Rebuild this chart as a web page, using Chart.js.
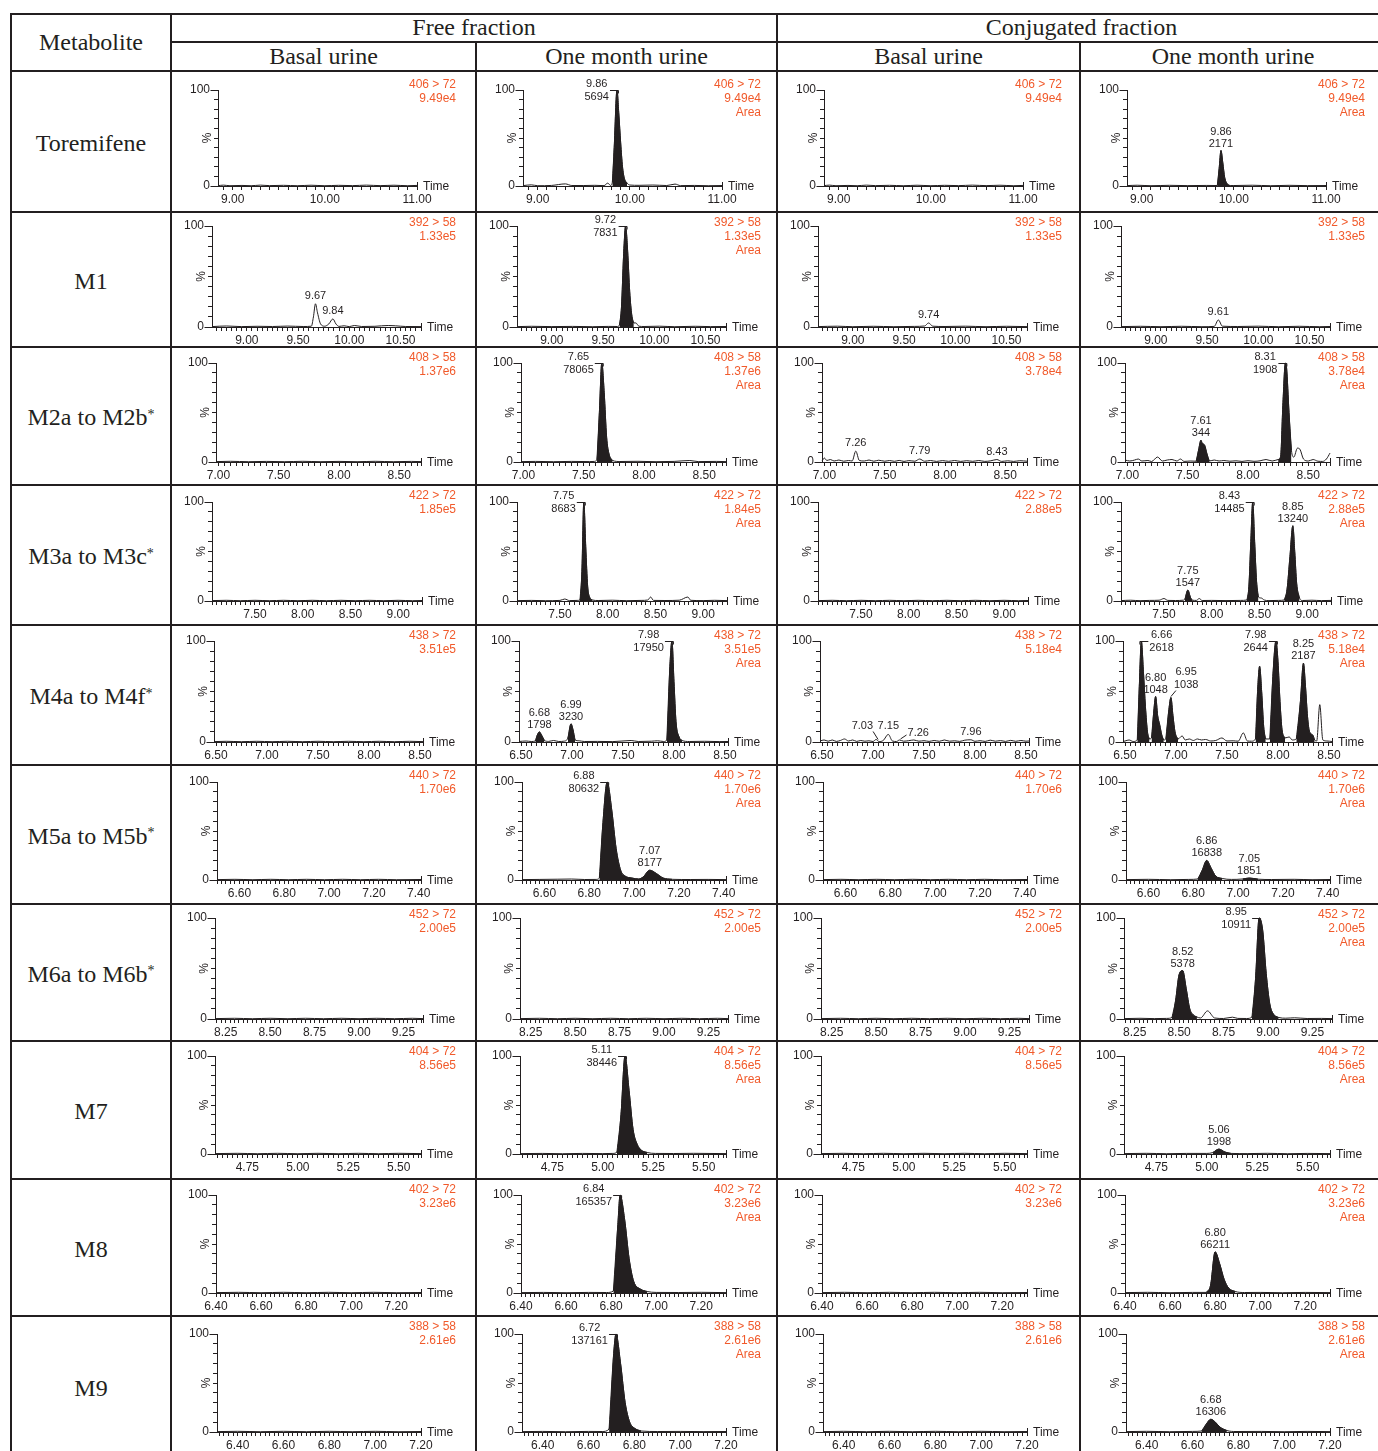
<!DOCTYPE html>
<html>
<head>
<meta charset="utf-8">
<script src="https://cdn.jsdelivr.net/npm/chart.js@4.4.1/dist/chart.umd.min.js"></script>
<style>
body { margin: 0; background: #fff; }
#page { position: relative; width: 1378px; height: 1451px; overflow: hidden; background: #fff;
  font-family: "Liberation Serif", "Times New Roman", serif; color: #231f20; }
.ln { position: absolute; background: #231f20; z-index: 3; }
.box { position: absolute; display: flex; align-items: center; justify-content: center;
  font-size: 24px; white-space: nowrap; z-index: 2; }
.name { padding-top: 3px; box-sizing: border-box; }
.box sup { font-size: 14px; position: relative; top: -3px; }
.chan { position: absolute; text-align: right; font-family: "Liberation Sans", Arial, sans-serif;
  font-size: 12px; line-height: 14px; color: #f15a2b; z-index: 2; white-space: nowrap; }
canvas { position: absolute; }
</style>
</head>
<body>
<div id="page"></div>
<script>
const metabolites = ['Toremifene', 'M1', 'M2a to M2b*', 'M3a to M3c*', 'M4a to M4f*',
  'M5a to M5b*', 'M6a to M6b*', 'M7', 'M8', 'M9'];
const fractions = ['Free fraction', 'Conjugated fraction'];
const samples = ['Basal urine', 'One month urine'];
const transitions = ['406 > 72', '392 > 58', '408 > 58', '422 > 72', '438 > 72',
  '440 > 72', '452 > 72', '404 > 72', '402 > 72', '388 > 58'];
const intensities = [
  ['9.49e4', '9.49e4', '9.49e4', '9.49e4'],
  ['1.33e5', '1.33e5', '1.33e5', '1.33e5'],
  ['1.37e6', '1.37e6', '3.78e4', '3.78e4'],
  ['1.85e5', '1.84e5', '2.88e5', '2.88e5'],
  ['3.51e5', '3.51e5', '5.18e4', '5.18e4'],
  ['1.70e6', '1.70e6', '1.70e6', '1.70e6'],
  ['2.00e5', '2.00e5', '2.00e5', '2.00e5'],
  ['8.56e5', '8.56e5', '8.56e5', '8.56e5'],
  ['3.23e6', '3.23e6', '3.23e6', '3.23e6'],
  ['2.61e6', '2.61e6', '2.61e6', '2.61e6']
];

// chromatogram traces: [time, % of channel max]
const torBase = [[8.84,0.4],[8.9,0.9],[8.97,0.3],[9.1,0.6],[9.2,0.3],[9.3,0.9],[9.4,0.4],[9.55,0.7],[9.7,0.3],[9.85,0.8],[10.0,0.3],[10.15,0.7],[10.3,0.4],[10.45,0.9],[10.6,0.4],[10.75,0.8],[10.9,0.3],[11.0,0.6]];
const torFreeOne = [[8.84,0.4],[8.93,1.2],[9.0,0.3],[9.15,0.6],[9.3,2.2],[9.37,0.5],[9.5,0.5],[9.62,0.7],[9.72,0.4],[9.76,3],[9.79,0.6],[9.81,4],[9.83,40],[9.86,100],[9.88,75],[9.9,45],[9.92,20],[9.94,8],[9.97,3],[10.0,1],[10.1,0.7],[10.25,1],[10.4,0.5],[10.49,2],[10.55,0.4],[10.7,0.6],[10.85,0.3],[11.0,0.5]];
const torFreeOneFills = [[9.8, 9.98]];
const torFreeOneLabels = [[9.86, 100, '5694']];
const torConjOne = [[8.84,0.4],[8.95,0.8],[9.1,0.3],[9.3,0.7],[9.5,0.4],[9.7,0.6],[9.82,0.5],[9.84,18],[9.86,37],[9.88,24],[9.9,9],[9.93,2],[9.96,0.5],[10.0,0.5],[10.2,0.8],[10.4,0.3],[10.6,0.7],[10.8,0.4],[11.0,0.5]];
const torConjOneFills = [[9.82, 9.96]];
const torConjOneLabels = [[9.86, 37, '2171']];

const m1FreeBasal = [[8.66,0.4],[8.8,1],[8.95,0.4],[9.1,0.7],[9.25,0.5],[9.4,0.9],[9.55,0.5],[9.63,0.8],[9.65,10],[9.67,23],[9.69,14],[9.72,3],[9.76,0.8],[9.8,3],[9.84,8],[9.87,3],[9.9,0.6],[9.95,1.2],[10.0,0.4],[10.05,1.5],[10.12,0.5],[10.25,0.7],[10.38,1.5],[10.45,1.2],[10.55,0.5],[10.7,0.4]];
const m1FreeBasalLabels = [[9.67, 23, ''], [9.84, 8, '']];
const m1FreeOne = [[8.66,0.4],[8.8,0.7],[9.0,0.4],[9.2,0.6],[9.4,0.3],[9.55,0.6],[9.64,0.5],[9.66,2],[9.68,20],[9.7,70],[9.72,100],[9.74,75],[9.76,35],[9.78,12],[9.8,4],[9.82,4],[9.85,0.8],[9.9,0.5],[10.05,0.8],[10.2,0.3],[10.4,0.7],[10.55,0.4],[10.7,0.5]];
const m1FreeOneFills = [[9.66, 9.81]];
const m1FreeOneLabels = [[9.72, 100, '7831']];
const m1ConjBasal = [[8.66,0.4],[8.85,0.8],[9.0,0.3],[9.2,0.7],[9.4,0.3],[9.6,0.6],[9.7,1],[9.74,4],[9.78,0.8],[9.9,0.5],[10.1,0.8],[10.3,0.3],[10.5,0.7],[10.7,0.4]];
const m1ConjBasalLabels = [[9.74, 4, '']];
const m1ConjOne = [[8.66,0.4],[8.85,0.7],[9.05,0.3],[9.25,0.7],[9.45,0.3],[9.57,0.6],[9.61,7],[9.65,0.8],[9.8,0.5],[10.0,0.8],[10.2,0.3],[10.4,0.7],[10.6,0.3],[10.7,0.5]];
const m1ConjOneLabels = [[9.61, 7, '']];

const m2Base = [[6.98,0.4],[7.1,0.7],[7.25,0.3],[7.4,0.6],[7.55,0.3],[7.7,0.7],[7.85,0.3],[8.0,0.6],[8.15,0.3],[8.3,0.7],[8.45,0.3],[8.6,0.6],[8.68,0.4]];
const m2FreeOne = [[6.98,0.4],[7.1,0.6],[7.25,0.3],[7.4,0.6],[7.55,0.4],[7.59,0.6],[7.61,3],[7.63,50],[7.65,100],[7.67,70],[7.69,25],[7.71,8],[7.74,1.5],[7.8,0.5],[7.95,0.7],[8.1,0.3],[8.25,0.6],[8.38,1.5],[8.45,0.4],[8.6,0.6],[8.68,0.4]];
const m2FreeOneFills = [[7.6, 7.74]];
const m2FreeOneLabels = [[7.65, 100, '78065']];
const m2ConjBasal = [[6.98,1],[7.0,4],[7.02,1.5],[7.05,2.5],[7.08,1],[7.12,2],[7.16,0.8],[7.2,1.5],[7.23,1],[7.26,11],[7.29,1.5],[7.33,1],[7.37,2],[7.41,0.8],[7.45,1.8],[7.5,0.8],[7.54,1.5],[7.58,0.7],[7.62,1.6],[7.66,0.6],[7.7,1.4],[7.75,0.8],[7.79,3],[7.83,0.8],[7.88,1.5],[7.93,0.6],[7.98,1.4],[8.03,0.7],[8.08,1.5],[8.13,0.6],[8.18,1.3],[8.23,0.7],[8.28,1.5],[8.33,0.6],[8.38,1.2],[8.43,2.5],[8.47,0.6],[8.52,1.2],[8.57,0.6],[8.62,1.3],[8.68,0.8]];
const m2ConjBasalLabels = [[7.26, 11, ''], [7.79, 3, ''], [8.43, 2.5, '']];
const m2ConjOne = [[6.98,2],[7.02,1],[7.06,2],[7.09,3],[7.12,1],[7.17,1.5],[7.2,0.5],[7.25,5],[7.29,1],[7.33,2],[7.37,2.5],[7.41,1],[7.44,3],[7.47,0.6],[7.52,1],[7.57,0.8],[7.59,12],[7.61,22],[7.62,19],[7.64,17],[7.66,8],[7.68,1],[7.72,2],[7.76,1],[7.8,1.5],[7.85,0.8],[7.9,1.2],[7.95,0.6],[8.0,1.3],[8.05,0.7],[8.1,1.2],[8.15,2.5],[8.2,1],[8.25,2.5],[8.27,5],[8.29,60],[8.31,100],[8.32,95],[8.34,50],[8.36,12],[8.38,5],[8.41,14],[8.43,13],[8.46,3],[8.5,1],[8.54,2.5],[8.58,0.8],[8.62,0.6],[8.65,3],[8.68,9]];
const m2ConjOneFills = [[7.57, 7.68], [8.25, 8.37]];
const m2ConjOneLabels = [[7.61, 22, '344'], [8.31, 100, '1908']];

const m3Base = [[7.05,0.4],[7.2,0.7],[7.35,0.3],[7.5,0.7],[7.65,0.3],[7.8,0.7],[7.95,0.3],[8.1,0.7],[8.25,0.3],[8.4,0.7],[8.55,0.3],[8.7,0.7],[8.85,0.3],[9.0,0.7],[9.15,0.3],[9.25,0.5]];
const m3FreeOne = [[7.05,0.4],[7.2,0.6],[7.35,0.3],[7.5,0.6],[7.55,2],[7.6,0.4],[7.68,0.6],[7.71,1],[7.73,30],[7.75,100],[7.77,55],[7.79,15],[7.81,4],[7.84,1],[7.9,0.5],[8.05,0.8],[8.2,0.3],[8.35,0.6],[8.42,1],[8.45,4],[8.48,0.6],[8.6,0.5],[8.75,0.8],[8.84,4],[8.87,0.7],[9.0,0.4],[9.12,0.7],[9.25,0.4]];
const m3FreeOneFills = [[7.71, 7.84]];
const m3FreeOneLabels = [[7.75, 100, '8683']];
const m3ConjOne = [[7.05,0.4],[7.15,0.8],[7.25,0.3],[7.35,0.6],[7.45,0.8],[7.5,2.5],[7.54,0.6],[7.62,0.5],[7.7,0.8],[7.72,2],[7.75,11],[7.78,3],[7.8,0.8],[7.84,0.6],[7.87,2.5],[7.9,0.5],[8.0,0.6],[8.15,0.4],[8.3,0.6],[8.37,1],[8.39,15],[8.41,60],[8.43,100],[8.45,60],[8.47,20],[8.49,4],[8.52,3],[8.55,1],[8.6,0.4],[8.7,0.6],[8.76,1],[8.79,12],[8.82,45],[8.85,76],[8.87,50],[8.89,18],[8.92,3],[8.95,0.5],[9.05,0.8],[9.15,0.4],[9.25,0.6]];
const m3ConjOneFills = [[7.71, 7.8], [8.37, 8.5], [8.76, 8.93]];
const m3ConjOneLabels = [[7.75, 11, '1547'], [8.43, 100, '14485'], [8.85, 76, '13240']];

const m4Base = [[6.48,0.4],[6.6,0.7],[6.75,0.3],[6.9,0.7],[7.05,0.3],[7.2,0.7],[7.35,0.3],[7.5,0.7],[7.65,0.3],[7.8,0.7],[7.95,0.3],[8.1,0.7],[8.25,0.3],[8.4,0.7],[8.53,0.4]];
const m4FreeOne = [[6.48,0.5],[6.55,1],[6.6,0.5],[6.64,1],[6.66,7],[6.68,10],[6.7,7],[6.73,1.5],[6.77,0.6],[6.82,1.5],[6.87,0.5],[6.92,0.8],[6.96,4],[6.99,18],[7.01,12],[7.03,2],[7.07,1.2],[7.12,0.5],[7.25,0.6],[7.4,0.4],[7.58,1.5],[7.65,0.5],[7.78,0.8],[7.84,1.2],[7.9,0.5],[7.93,2],[7.96,75],[7.98,100],[8.0,60],[8.02,20],[8.05,5],[8.08,1.5],[8.15,0.5],[8.3,0.7],[8.45,0.4],[8.53,0.5]];
const m4FreeOneFills = [[6.64, 6.73], [6.95, 7.04], [7.93, 8.08]];
const m4FreeOneLabels = [[6.68, 10, '1798'], [6.99, 18, '3230'], [7.98, 100, '17950']];
const m4ConjBasal = [[6.48,1],[6.52,2],[6.56,0.8],[6.6,2],[6.64,0.6],[6.68,1.5],[6.72,3],[6.76,1],[6.8,2],[6.84,0.6],[6.88,1.5],[6.92,0.8],[6.96,1.2],[7.0,0.5],[7.03,2.5],[7.06,0.4],[7.1,1.5],[7.15,7.5],[7.19,1],[7.23,0.5],[7.26,2],[7.3,0.8],[7.35,1.3],[7.4,2],[7.45,0.8],[7.5,1.3],[7.55,0.6],[7.6,1.5],[7.65,0.7],[7.7,2],[7.75,0.8],[7.8,1.2],[7.85,0.6],[7.9,1.8],[7.96,2.2],[8.0,0.7],[8.05,1.3],[8.1,0.6],[8.15,1.8],[8.2,0.8],[8.25,1.4],[8.3,0.6],[8.35,1.6],[8.4,0.7],[8.45,1.5],[8.5,0.8],[8.53,1]];
const m4ConjBasalLabels = [[7.03, 2.5, ''], [7.15, 7.5, ''], [7.26, 2, ''], [7.96, 2.2, '']];
const m4ConjOne = [[6.48,0.5],[6.5,1],[6.54,2],[6.58,0.5],[6.62,2],[6.64,55],[6.66,100],[6.68,70],[6.7,35],[6.72,10],[6.74,3],[6.76,4],[6.78,28],[6.8,45],[6.82,26],[6.84,17],[6.86,7],[6.88,2],[6.9,3],[6.93,32],[6.95,44],[6.97,26],[6.99,10],[7.02,3],[7.06,6],[7.09,2],[7.13,3],[7.17,1.5],[7.21,3],[7.25,2],[7.29,2.5],[7.34,1],[7.39,1.5],[7.45,4],[7.5,1],[7.56,1.2],[7.61,0.8],[7.66,9],[7.7,1],[7.74,0.8],[7.78,3],[7.8,50],[7.82,75],[7.84,50],[7.86,15],[7.88,3],[7.92,3],[7.95,65],[7.98,100],[8.0,80],[8.02,40],[8.04,12],[8.07,4],[8.11,5],[8.14,2],[8.18,3],[8.22,40],[8.25,78],[8.27,55],[8.29,25],[8.31,10],[8.34,7],[8.36,2],[8.38,1],[8.41,37],[8.44,2],[8.48,1],[8.53,0.5]];
const m4ConjOneFills = [[6.62, 6.74], [6.76, 6.89], [6.9, 7.02], [7.78, 7.89], [7.92, 8.07], [8.18, 8.36]];
const m4ConjOneLabels = [[6.66, 100, '2618'], [6.8, 45, '1048'], [6.95, 44, '1038'], [7.98, 100, '2644'], [8.25, 78, '2187']];

const m5Base = [[6.5,0.4],[6.58,0.7],[6.66,0.3],[6.74,0.7],[6.82,0.3],[6.9,0.7],[6.98,0.3],[7.06,0.7],[7.14,0.3],[7.22,0.7],[7.3,0.3],[7.41,0.5]];
const m5FreeOne = [[6.5,0.4],[6.58,0.6],[6.66,0.8],[6.72,1],[6.78,0.5],[6.83,0.6],[6.845,2],[6.86,55],[6.88,100],[6.9,72],[6.92,32],[6.94,10],[6.96,4],[6.99,2],[7.02,1],[7.04,3],[7.07,10],[7.1,6.5],[7.13,2],[7.17,0.7],[7.25,0.5],[7.33,0.6],[7.41,0.4]];
const m5FreeOneFills = [[6.84, 7.17]];
const m5FreeOneLabels = [[6.88, 100, '80632'], [7.07, 10, '8177']];
const m5ConjOne = [[6.5,0.4],[6.6,0.7],[6.7,0.3],[6.78,0.6],[6.82,1],[6.84,10],[6.86,20],[6.88,12],[6.9,4],[6.93,1.5],[6.97,0.6],[7.02,1],[7.05,2],[7.09,0.8],[7.15,0.5],[7.25,0.7],[7.33,0.3],[7.41,0.5]];
const m5ConjOneFills = [[6.82, 6.95], [7.02, 7.09]];
const m5ConjOneLabels = [[6.86, 20, '16838'], [7.05, 2, '1851']];

const m6Base = [[8.19,0.4],[8.3,0.7],[8.4,0.3],[8.5,0.7],[8.6,0.3],[8.7,0.7],[8.8,0.3],[8.9,0.7],[9.0,0.3],[9.1,0.7],[9.2,0.3],[9.3,0.7],[9.36,0.4]];
const m6ConjOne = [[8.19,0.4],[8.28,0.7],[8.36,0.4],[8.43,0.6],[8.46,1.5],[8.48,18],[8.5,44],[8.52,48],[8.54,30],[8.56,10],[8.58,4],[8.6,2],[8.62,1],[8.66,8],[8.7,1],[8.75,0.5],[8.8,1.8],[8.83,0.6],[8.88,0.5],[8.91,2],[8.93,40],[8.95,100],[8.97,88],[8.99,45],[9.01,15],[9.03,5],[9.06,1.5],[9.1,0.8],[9.15,1.2],[9.22,0.5],[9.3,0.6],[9.36,0.4]];
const m6ConjOneFills = [[8.45, 8.61], [8.9, 9.08]];
const m6ConjOneLabels = [[8.52, 48, '5378'], [8.95, 100, '10911']];

const m7Base = [[4.59,0.4],[4.7,0.7],[4.8,0.3],[4.9,0.7],[5.0,0.3],[5.1,0.7],[5.2,0.3],[5.3,0.7],[5.4,0.3],[5.5,0.7],[5.61,0.4]];
const m7FreeOne = [[4.59,0.4],[4.7,0.6],[4.8,0.3],[4.9,0.6],[5.0,0.4],[5.05,0.6],[5.07,2],[5.09,40],[5.11,100],[5.13,65],[5.15,25],[5.17,10],[5.19,4],[5.22,1.5],[5.26,0.6],[5.35,0.5],[5.45,0.7],[5.61,0.4]];
const m7FreeOneFills = [[5.06, 5.23]];
const m7FreeOneLabels = [[5.11, 100, '38446']];
const m7ConjOne = [[4.59,0.4],[4.7,0.7],[4.8,0.3],[4.9,0.6],[5.0,0.6],[5.03,1.5],[5.06,5],[5.09,2],[5.12,0.6],[5.2,0.4],[5.3,0.7],[5.4,0.3],[5.5,0.6],[5.61,0.4]];
const m7ConjOneFills = [[5.02, 5.12]];
const m7ConjOneLabels = [[5.06, 5, '1998']];

const m8Base = [[6.4,0.4],[6.5,0.7],[6.6,0.3],[6.7,0.7],[6.8,0.3],[6.9,0.7],[7.0,0.3],[7.1,0.7],[7.2,0.3],[7.31,0.5]];
const m8FreeOne = [[6.4,0.4],[6.5,0.6],[6.6,0.3],[6.7,0.6],[6.78,0.5],[6.81,2],[6.83,70],[6.84,100],[6.86,75],[6.88,35],[6.9,12],[6.93,4],[6.96,1.5],[7.0,0.6],[7.1,0.5],[7.2,0.7],[7.31,0.4]];
const m8FreeOneFills = [[6.8, 6.97]];
const m8FreeOneLabels = [[6.84, 100, '165357']];
const m8ConjOne = [[6.4,0.4],[6.5,0.7],[6.6,0.3],[6.7,0.6],[6.76,0.6],[6.78,8],[6.8,42],[6.82,30],[6.84,14],[6.86,5],[6.89,1.5],[6.93,0.5],[7.0,0.6],[7.1,0.3],[7.2,0.6],[7.31,0.4]];
const m8ConjOneFills = [[6.76, 6.9]];
const m8ConjOneLabels = [[6.8, 42, '66211']];

const m9Base = [[6.31,0.4],[6.4,0.7],[6.5,0.3],[6.6,0.7],[6.7,0.3],[6.8,0.7],[6.9,0.3],[7.0,0.7],[7.1,0.3],[7.2,0.5]];
const m9FreeOne = [[6.31,0.4],[6.4,0.6],[6.5,0.3],[6.6,0.6],[6.66,0.5],[6.69,3],[6.71,80],[6.72,100],[6.74,70],[6.76,30],[6.78,10],[6.8,4],[6.83,1],[6.9,0.5],[7.0,0.6],[7.1,0.4],[7.2,0.5]];
const m9FreeOneFills = [[6.68, 6.83]];
const m9FreeOneLabels = [[6.72, 100, '137161']];
const m9ConjOne = [[6.31,0.4],[6.4,0.7],[6.5,0.3],[6.6,0.6],[6.64,1],[6.66,8],[6.68,13],[6.7,10],[6.72,5],[6.75,1.5],[6.79,0.5],[6.9,0.6],[7.0,0.3],[7.1,0.6],[7.2,0.4]];
const m9ConjOneFills = [[6.64, 6.78]];
const m9ConjOneLabels = [[6.68, 13, '16306']];

// which trace goes in which cell (row = metabolite, col = free basal, free 1 month, conj basal, conj 1 month)
const panels = [
  [{t: torBase}, {t: torFreeOne, f: torFreeOneFills, l: torFreeOneLabels}, {t: torBase}, {t: torConjOne, f: torConjOneFills, l: torConjOneLabels}],
  [{t: m1FreeBasal, l: m1FreeBasalLabels}, {t: m1FreeOne, f: m1FreeOneFills, l: m1FreeOneLabels}, {t: m1ConjBasal, l: m1ConjBasalLabels}, {t: m1ConjOne, l: m1ConjOneLabels}],
  [{t: m2Base}, {t: m2FreeOne, f: m2FreeOneFills, l: m2FreeOneLabels}, {t: m2ConjBasal, l: m2ConjBasalLabels}, {t: m2ConjOne, f: m2ConjOneFills, l: m2ConjOneLabels}],
  [{t: m3Base}, {t: m3FreeOne, f: m3FreeOneFills, l: m3FreeOneLabels}, {t: m3Base}, {t: m3ConjOne, f: m3ConjOneFills, l: m3ConjOneLabels}],
  [{t: m4Base}, {t: m4FreeOne, f: m4FreeOneFills, l: m4FreeOneLabels}, {t: m4ConjBasal, l: m4ConjBasalLabels}, {t: m4ConjOne, f: m4ConjOneFills, l: m4ConjOneLabels}],
  [{t: m5Base}, {t: m5FreeOne, f: m5FreeOneFills, l: m5FreeOneLabels}, {t: m5Base}, {t: m5ConjOne, f: m5ConjOneFills, l: m5ConjOneLabels}],
  [{t: m6Base}, {t: m6Base}, {t: m6Base}, {t: m6ConjOne, f: m6ConjOneFills, l: m6ConjOneLabels}],
  [{t: m7Base}, {t: m7FreeOne, f: m7FreeOneFills, l: m7FreeOneLabels}, {t: m7Base}, {t: m7ConjOne, f: m7ConjOneFills, l: m7ConjOneLabels}],
  [{t: m8Base}, {t: m8FreeOne, f: m8FreeOneFills, l: m8FreeOneLabels}, {t: m8Base}, {t: m8ConjOne, f: m8ConjOneFills, l: m8ConjOneLabels}],
  [{t: m9Base}, {t: m9FreeOne, f: m9FreeOneFills, l: m9FreeOneLabels}, {t: m9Base}, {t: m9ConjOne, f: m9ConjOneFills, l: m9ConjOneLabels}]
];

// label placement where the default (left of a 100% apex, else above) doesn't fit
const placements = new Map([
  [m4ConjOneLabels, ['right', 'above', 'aboveRight', 'left', 'above']],
  [m4ConjBasalLabels, ['aboveLeft', 'above', 'aboveRight', 'above']]
]);

// time axis per row; left/right/top/bottom = plot box inside the cell
const rowAxes = [
  {min: 8.84, max: 11.0, major: 1, minor: 0.1, left: 47, right: 246, top: 19, bottom: 115},
  {min: 8.66, max: 10.7, major: 0.5, minor: 0.05, left: 41, right: 250, top: 14, bottom: 115},
  {min: 6.98, max: 8.68, major: 0.5, minor: 0.05, left: 45, right: 250, top: 16, bottom: 115},
  {min: 7.05, max: 9.25, major: 0.5, minor: 0.05, left: 41, right: 251, top: 17, bottom: 116},
  {min: 6.48, max: 8.53, major: 0.5, minor: 0.05, left: 43, right: 252, top: 16, bottom: 117},
  {min: 6.5, max: 7.41, major: 0.2, minor: 0.02, left: 46, right: 250, top: 17, bottom: 115},
  {min: 8.19, max: 9.36, major: 0.25, minor: 0.025, left: 44, right: 252, top: 14, bottom: 115},
  {min: 4.59, max: 5.61, major: 0.25, minor: 0.025, left: 44, right: 250, top: 15, bottom: 113},
  {min: 6.4, max: 7.31, major: 0.2, minor: 0.02, left: 45, right: 250, top: 16, bottom: 114},
  {min: 6.31, max: 7.2, major: 0.2, minor: 0.02, left: 46, right: 250, top: 18, bottom: 116}
];

const INK = '#231f20';
const SANS = '"Liberation Sans", Arial, Helvetica, sans-serif';
const cols = [171, 476, 777, 1080, 1386];
const rows = [71, 212, 347, 485, 625, 765, 904, 1041, 1179, 1316, 1458];
const page = document.getElementById('page');

Chart.defaults.font.family = SANS;
Chart.defaults.color = INK;

function el(cls, x, y, w, h, html) {
  const d = document.createElement('div');
  d.className = cls;
  d.style.left = x + 'px'; d.style.top = y + 'px';
  d.style.width = w + 'px'; d.style.height = h + 'px';
  if (html !== undefined) d.innerHTML = html;
  page.appendChild(d);
  return d;
}

// table rules
el('ln', 10, 13, 1378, 2);
el('ln', 170, 41, 1218, 2);
el('ln', 10, 70, 1378, 2);
rows.slice(1, -1).forEach(y => el('ln', 10, y - 1, 1378, 2));
el('ln', 10, 13, 2, 1450);
[171, 777].forEach(x => el('ln', x - 1, 13, 2, 1450));
[476, 1080].forEach(x => el('ln', x - 1, 41, 2, 1420));

// headers
el('box', 11, 14, 160, 57, 'Metabolite');
fractions.forEach((f, i) => el('box', cols[i * 2], 14, cols[i * 2 + 2] - cols[i * 2], 27, f));
for (let c = 0; c < 4; c++) el('box', cols[c], 42, cols[c + 1] - cols[c], 29, samples[c % 2]);
metabolites.forEach((m, r) => {
  el('box name', 11, rows[r], 160, rows[r + 1] - rows[r], m.replace('*', '<sup>*</sup>'));
});

function decor(labels, place) {
  return {
    id: 'decor',
    afterDatasetsDraw(chart) {
      const {ctx, chartArea: a, scales} = chart;
      const seg = (x1, y1, x2, y2) => { ctx.beginPath(); ctx.moveTo(x1, y1); ctx.lineTo(x2, y2); ctx.stroke(); };
      ctx.save();
      ctx.fillStyle = INK; ctx.strokeStyle = INK; ctx.lineWidth = 1;
      ctx.textBaseline = 'middle';
      ctx.font = '12px ' + SANS;
      ctx.textAlign = 'left';
      ctx.fillText('Time', a.right + 6, a.bottom + 1);
      const xr = Math.round(a.right) + 0.5;
      seg(xr, a.bottom - 4, xr, a.bottom + 4);
      // longer ticks at 0 and 100
      const xl = Math.round(a.left) - 0.5;
      [0, 100].forEach(v => {
        const yy = Math.round(scales.y.getPixelForValue(v)) + 0.5;
        seg(xl - 7, yy, xl - 3, yy);
      });
      ctx.save();
      ctx.translate(a.left - 10, (a.top + a.bottom) / 2);
      ctx.rotate(-Math.PI / 2);
      ctx.textAlign = 'center';
      ctx.fillText('%', 0, 0);
      ctx.restore();

      ctx.font = '11px ' + SANS;
      ctx.textAlign = 'center';
      (labels || []).forEach((lab, i) => {
        const [rt, h, area] = lab;
        const px = scales.x.getPixelForValue(rt);
        const py = scales.y.getPixelForValue(h);
        const lines = area ? [rt.toFixed(2), area] : [rt.toFixed(2)];
        const w = Math.max(...lines.map(s => ctx.measureText(s).width));
        const mode = (place && place[i]) || (h >= 99 ? 'left' : 'above');
        const yb = Math.round(py) + 0.5;
        if (mode === 'left') {
          const cx = px - 8 - w / 2;
          ctx.fillText(lines[0], cx, py - 6);
          if (lines[1]) ctx.fillText(lines[1], cx, py + 7);
          seg(px - 7, yb, px + 1.5, yb); seg(px + 1.5, yb, px + 1.5, yb + 3);
        } else if (mode === 'right') {
          const cx = px + 8 + w / 2;
          ctx.fillText(lines[0], cx, py - 6);
          if (lines[1]) ctx.fillText(lines[1], cx, py + 7);
          seg(px + 7, yb, px - 1.5, yb); seg(px - 1.5, yb, px - 1.5, yb + 3);
        } else if (mode === 'aboveRight') {
          if (lines[1]) {
            const cx = px + 3 + w / 2;
            ctx.fillText(lines[0], cx, py - 26);
            ctx.fillText(lines[1], cx, py - 13);
            seg(px, py - 1, px + 5, py - 7);
          } else {
            ctx.fillText(lines[0], px + 8 + w / 2, py - 7);
            seg(px + 1, py - 1, px + 7, py - 5);
          }
        } else if (mode === 'aboveLeft') {
          ctx.fillText(lines[0], px - 3 - w / 2, py - 14);
          seg(px - 3, py - 8, px + 2, py);
        } else {
          if (lines[1]) {
            ctx.fillText(lines[0], px, py - 19);
            ctx.fillText(lines[1], px, py - 7);
          } else {
            ctx.fillText(lines[0], px, py - 8);
          }
        }
      });
      ctx.restore();
    }
  };
}

panels.forEach((rowPanels, r) => {
  const ax = rowAxes[r];
  rowPanels.forEach((p, c) => {
    const cellL = cols[c], cellW = cols[c + 1] - cols[c];
    const rowT = rows[r], rowH = rows[r + 1] - rows[r];

    const chan = el('chan', cellL, rowT + (r === 0 ? 6 : 3), 285, 44,
      transitions[r] + '<br>' + intensities[r][c] + (p.f ? '<br>Area' : ''));
    chan.style.height = 'auto';

    const canvas = document.createElement('canvas');
    canvas.width = cellW; canvas.height = rowH;
    canvas.style.left = cellL + 'px'; canvas.style.top = rowT + 'px';
    page.appendChild(canvas);

    const pts = arr => arr.map(([x, y]) => ({x, y}));
    const datasets = [{
      data: pts(p.t), borderColor: INK, borderWidth: 1, pointRadius: 0,
      fill: false, cubicInterpolationMode: 'monotone', clip: false
    }];
    (p.f || []).forEach(([s, e]) => {
      datasets.push({
        data: pts(p.t.filter(([x]) => x >= s - 1e-9 && x <= e + 1e-9)),
        borderColor: INK, backgroundColor: INK, borderWidth: 1, pointRadius: 0,
        fill: 'origin', cubicInterpolationMode: 'monotone', clip: false
      });
    });

    new Chart(canvas, {
      type: 'line',
      data: {datasets},
      options: {
        responsive: false, animation: false, devicePixelRatio: 1,
        layout: {padding: {left: 0, top: ax.top, right: cellW - ax.right, bottom: 0}},
        plugins: {legend: {display: false}, tooltip: {enabled: false}},
        scales: {
          x: {
            type: 'linear', min: ax.min, max: ax.max,
            afterFit: s => { s.height = rowH - ax.bottom; },
            afterBuildTicks: s => {
              const out = [];
              const n0 = Math.ceil(ax.min / ax.minor - 1e-6), n1 = Math.floor(ax.max / ax.minor + 1e-6);
              for (let n = n0; n <= n1; n++) out.push({value: +(n * ax.minor).toFixed(4)});
              s.ticks = out;
            },
            ticks: {
              autoSkip: false, maxRotation: 0, minRotation: 0, padding: 2, color: INK,
              font: {size: 12},
              callback: v => {
                const k = v / ax.major;
                return Math.abs(k - Math.round(k)) < 1e-6 ? v.toFixed(2) : '';
              }
            },
            grid: {drawOnChartArea: false, tickLength: 4, tickColor: INK, color: INK},
            border: {display: true, color: INK, width: 1}
          },
          y: {
            min: 0, max: 100,
            afterFit: s => { s.width = ax.left; },
            afterBuildTicks: s => {
              const out = [];
              for (let v = 0; v <= 100; v += 10) out.push({value: v});
              s.ticks = out;
            },
            ticks: {
              autoSkip: false, padding: 4, color: INK, font: {size: 12},
              callback: v => (v === 0 || v === 100) ? String(v) : ''
            },
            grid: {drawOnChartArea: false, tickLength: 4, tickColor: INK, color: INK},
            border: {display: true, color: INK, width: 1}
          }
        }
      },
      plugins: [decor(p.l, placements.get(p.l))]
    });
  });
});
</script>
</body>
</html>
